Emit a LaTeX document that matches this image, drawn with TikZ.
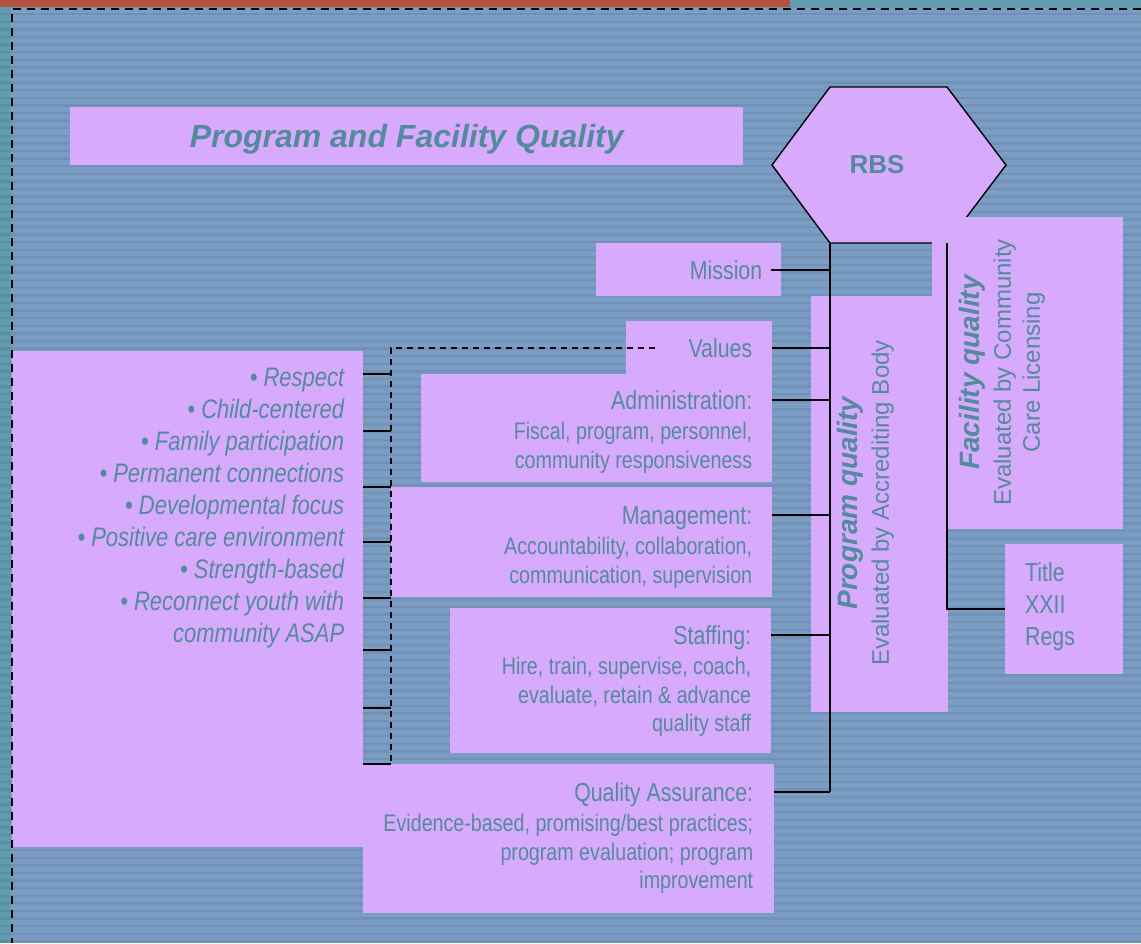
\documentclass[tikz,border=0pt]{standalone}
\usepackage{fontspec}
\setmainfont{Liberation Sans}
\newfontfamily\narrowfont{Liberation Sans}[FakeStretch=0.82]
\usetikzlibrary{positioning, calc}
\definecolor{slate}{RGB}{122,157,196}
\definecolor{rimteal}{RGB}{95,156,175}
\definecolor{rimred}{RGB}{184,82,64}
\definecolor{lilac}{RGB}{216,170,254}
\definecolor{inkteal}{RGB}{80,140,156}
\tikzset{
    panel/.style={fill=lilac, inner sep=0pt, anchor=north west},
    words/.style={text=inkteal, inner sep=0pt, align=right, font=\narrowfont\fontsize{24}{28.5}\selectfont},
    heading/.style={words, text height=18.6pt, text depth=0pt, font=\narrowfont\fontsize{26}{30}\selectfont},
    upright/.style={text=inkteal, inner sep=0pt, align=center, rotate=90, font=\fontsize{24}{29}\selectfont},
    link/.style={draw=black, line width=1.8pt},
    bus/.style={draw=black, line width=1.8pt, dash pattern=on 6pt off 5pt},
}
\begin{document}
\begin{tikzpicture}[x=1pt, y=-1pt]
    \useasboundingbox (0,0) rectangle (1141,943);
    \fill[slate] (0,0) rectangle (1141,943);
    \fill[rimteal] (0,0) rectangle (11,943);
    \fill[rimteal] (0,0) rectangle (1141,8);
    \foreach \y in {13,20.6,...,943}
        \fill[black, opacity=0.07] (0,\y) rectangle (1141,\y+2.4);
    \fill[rimred] (0,0) rectangle (790,6.5);

    \node[panel, minimum width=673pt, minimum height=58pt, text=inkteal, text depth=0pt,
          font=\bfseries\itshape\fontsize{32}{36}\selectfont] (title) at (70,107) {Program and Facility Quality};

    \draw[fill=lilac, line width=1.4pt] (772,165) -- (830,87) -- (947,87) -- (1006,165) -- (947,243) -- (830,243) -- cycle;
    \node[text=inkteal, font=\bfseries\fontsize{26}{30}\selectfont] (rbs) at (877,165) {RBS};
    \coordinate (hexsw) at (830,243);
    \coordinate (hexse) at (947,243);

    \node[panel, minimum width=191pt, minimum height=312pt] (facility) at (932,217) {};
    \node[upright] (facilitytext) at (1002.3,372.5)
        {{\fontsize{28}{29}\selectfont\bfseries\itshape Facility quality}\\[2pt]Evaluated by Community\\Care Licensing};

    \node[panel, minimum width=118pt, minimum height=130pt] (regs) at (1005,544) {};
    \node[words, align=left, font=\narrowfont\fontsize{26}{32}\selectfont,
          below right=18pt and 20pt of regs.north west] (regstext) {Title\\XXII\\Regs};

    \node[panel, minimum width=137pt, minimum height=416pt] (program) at (811,296) {};
    \node[upright] (programtext) at (865.8,503)
        {{\fontsize{28}{29}\selectfont\bfseries\itshape Program quality}\\[2pt]Evaluated by Accrediting Body};

    \node[panel, heading, text width=147pt, inner xsep=19pt, minimum width=185pt, minimum height=53pt] (mission) at (596,243) {Mission};
    \node[panel, heading, text width=106pt, inner xsep=20pt, minimum width=146pt, minimum height=53pt] (values) at (626,321) {Values};

    \node[panel, minimum width=351pt, minimum height=108pt] (adminbox) at (421,374) {};
    \node[heading, below left=16.4pt and 20pt of adminbox.north east] (adminhead) {Administration:};
    \node[words, below left=13pt and 0pt of adminhead.base east] (adminbody) {Fiscal, program, personnel,\\community responsiveness};

    \node[panel, minimum width=381pt, minimum height=110pt] (mgmtbox) at (391,487) {};
    \node[heading, below left=18.4pt and 20pt of mgmtbox.north east] (mgmthead) {Management:};
    \node[words, below left=13pt and 0pt of mgmthead.base east] (mgmtbody) {Accountability, collaboration,\\communication, supervision};

    \node[panel, minimum width=321pt, minimum height=145pt] (staffbox) at (450,608) {};
    \node[heading, below left=17.4pt and 20pt of staffbox.north east] (staffhead) {Staffing:};
    \node[words, below left=13pt and 0pt of staffhead.base east] (staffbody) {Hire, train, supervise, coach,\\evaluate, retain \& advance\\quality staff};

    \node[panel, minimum width=411pt, minimum height=149pt] (qabox) at (363,764) {};
    \node[heading, below left=18.4pt and 21pt of qabox.north east] (qahead) {Quality Assurance:};
    \node[words, below left=13pt and 0pt of qahead.base east] (qabody) {Evidence-based, promising/best practices;\\program evaluation; program\\improvement};

    \node[panel, minimum width=351pt, minimum height=496pt] (core) at (12,351) {};
    \node[words, font=\narrowfont\itshape\fontsize{26.8}{32}\selectfont,
          below left=17.2pt and 19pt of core.north east] (corelist)
        {• Respect\\• Child-centered\\• Family participation\\• Permanent connections\\• Developmental focus\\%
         • Positive care environment\\• Strength-based\\• Reconnect youth with\\community ASAP};

    \draw[link] ([xshift=-10pt]mission.east) -- (mission.east -| hexsw);
    \draw[link] (values.east) -- (values.east -| hexsw);
    \foreach \hd/\bx in {adminhead/adminbox, mgmthead/mgmtbox, staffhead/staffbox, qahead/qabox}
        \draw[link] (\hd.east -| \bx.east) -- (\hd.east -| hexsw);
    \draw[link] (hexsw) -- (qahead.east -| hexsw);
    \draw[link] (hexse) |- (regs.west);

    \coordinate (busend) at (391,764);
    \draw[bus] ([xshift=29pt]values.west) -| (busend);
    \foreach \y in {374,431,487,542,598,650,708,764}
        \draw[link] (core.east |- 0,\y) -- (busend |- 0,\y);

    \draw[black, line width=2pt, dash pattern=on 8pt off 6pt] (1141,9) -- (12,9) -- (12,943);
\end{tikzpicture}
\end{document}
